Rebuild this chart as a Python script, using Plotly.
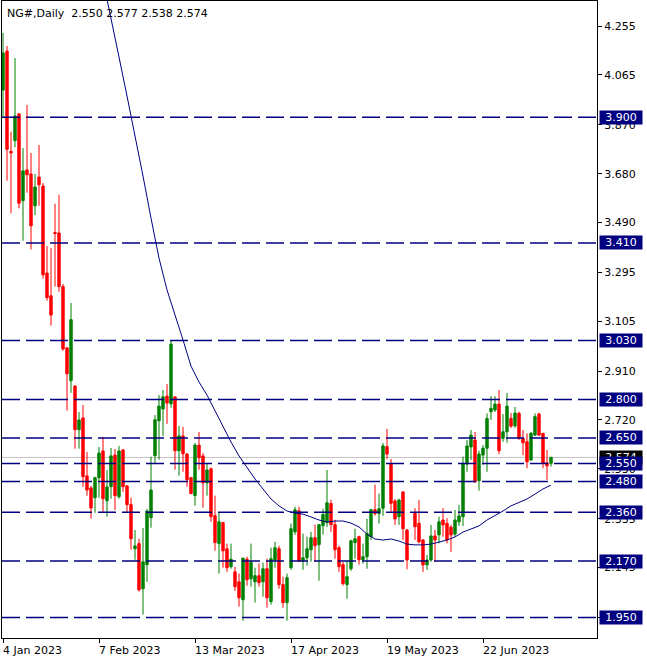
import plotly.graph_objects as go

# ---------------- data ----------------
bar_index = list(range(138))

opens = [4.006, 4.158, 3.767, 3.809, 3.913, 3.575, 3.695, 3.679, 3.555, 3.667,
         3.632, 3.293, 3.204, 3.451, 3.449, 3.240, 3.001, 2.873, 2.852, 2.682,
         2.728, 2.502, 2.455, 2.417, 2.495, 2.599, 2.405, 2.460, 2.583, 2.421,
         2.603, 2.463, 2.390, 2.218, 2.238, 2.062, 2.156, 2.339, 2.581, 2.717,
         2.763, 2.813, 2.783, 2.810, 2.600, 2.658, 2.587, 2.495, 2.425, 2.622,
         2.580, 2.475, 2.530, 2.347, 2.238, 2.320, 2.218, 2.148, 2.128, 2.089,
         2.019, 2.177, 2.101, 2.089, 2.113, 2.089, 2.140, 2.012, 2.175, 2.218,
         2.078, 2.008, 2.144, 2.284, 2.366, 2.171, 2.183, 2.214, 2.261, 2.234,
         2.308, 2.320, 2.394, 2.312, 2.222, 2.156, 2.078, 2.140, 2.242, 2.265,
         2.175, 2.187, 2.265, 2.370, 2.355, 2.376, 2.616, 2.547, 2.404, 2.343,
         2.439, 2.291, None, 2.356, 2.317, 2.252, 2.155, 2.174, 2.268, 2.272,
         2.330, 2.317, 2.302, 2.275, 2.323, 2.343, 2.548, 2.615, 2.642, 2.483,
         2.583, 2.610, 2.752, 2.759, 2.782, 2.648, 2.674, 2.726, 2.697, 2.746,
         2.648, 2.635, 2.564, 2.661, 2.743, 2.668, 2.553, 2.550]

highs = [4.229, 4.178, 3.844, 4.131, 3.917, 3.780, 3.948, 3.761, 3.679, 3.792,
         3.644, 3.398, 3.390, 3.563, 3.598, 3.250, 3.004, 3.176, 2.855, 2.751,
         2.778, 2.595, 2.463, 2.499, 2.615, 2.654, 2.525, 2.611, 2.607, 2.619,
         2.607, 2.466, 2.417, 2.291, 2.257, 2.299, 2.373, 2.577, 2.739, 2.817,
         2.837, 2.860, 3.028, 2.813, 2.697, 2.693, 2.591, 2.498, 2.630, 2.673,
         2.591, 2.552, 2.534, 2.425, 2.358, 2.323, 2.238, 2.238, 2.148, 2.121,
         2.183, 2.187, 2.238, 2.144, 2.161, 2.164, 2.179, 2.222, 2.245, 2.230,
         2.109, 2.121, 2.316, 2.382, 2.382, 2.277, 2.265, 2.284, 2.312, 2.315,
         2.374, 2.525, 2.409, 2.331, 2.230, 2.167, 2.171, 2.253, 2.296, 2.269,
         2.238, 2.335, 2.374, 2.468, 2.433, 2.630, 2.685, 2.568, 2.412, 2.413,
         2.443, 2.295, None, 2.376, 2.408, 2.256, 2.194, 2.311, 2.291, 2.343,
         2.376, 2.337, 2.311, 2.369, 2.389, 2.577, 2.642, 2.681, 2.673, 2.600,
         2.622, 2.746, 2.813, 2.813, 2.837, 2.743, 2.825, 2.747, 2.771, 2.752,
         2.681, 2.668, 2.673, 2.746, 2.748, 2.669, 2.603, 2.577]

lows = [3.901, 3.653, 3.526, 3.783, 3.545, 3.419, 3.606, 3.385, 3.519, 3.555,
        3.271, 3.185, 3.088, 3.240, 3.220, 2.990, 2.756, 2.826, 2.608, 2.608,
        2.460, 2.425, 2.335, 2.358, 2.417, 2.362, 2.343, 2.413, 2.369, 2.413,
        2.440, 2.358, 2.214, 2.175, 2.051, 1.961, 2.089, 2.300, 2.550, 2.565,
        2.658, 2.705, 2.768, 2.526, 2.503, 2.518, 2.460, 2.431, 2.386, 2.526,
        2.378, 2.425, 2.323, 2.210, 2.121, 2.144, 2.128, 2.140, 2.054, 1.992,
        1.937, 2.074, 2.070, 2.008, 2.070, 2.031, 1.988, 2.000, 2.144, 2.062,
        1.988, 1.937, 2.136, 2.272, 2.166, 2.136, 2.152, 2.167, 2.167, 2.093,
        2.273, 2.303, 2.284, 2.179, 2.128, 2.074, 2.023, 2.132, 2.179, 2.156,
        2.160, 2.140, 2.252, 2.347, 2.316, 2.346, 2.567, 2.362, 2.311, 2.311,
        2.252, 2.138, None, 2.252, 2.239, 2.128, 2.135, 2.167, 2.167, 2.239,
        2.265, 2.239, 2.206, 2.265, 2.307, 2.307, 2.518, 2.564, 2.474, 2.444,
        2.544, 2.518, 2.720, 2.751, 2.587, 2.635, 2.631, 2.689, 2.689, 2.642,
        2.583, 2.532, 2.560, 2.658, 2.658, 2.532, 2.486, 2.538]

closes = [4.151, 3.775, 3.761, 3.905, 3.565, 3.691, 3.676, 3.477, 3.628, 3.637,
          3.286, 3.197, 3.129, 3.447, 3.240, 2.997, 2.900, 3.111, 2.682, 2.720,
          2.499, 2.447, 2.377, 2.495, 2.591, 2.413, 2.459, 2.580, 2.425, 2.599,
          2.460, 2.390, 2.257, 2.229, 2.058, 2.167, 2.365, 2.447, 2.721, 2.774,
          2.810, 2.786, 3.016, 2.600, 2.658, 2.588, 2.487, 2.433, 2.622, 2.573,
          2.475, 2.525, 2.343, 2.242, 2.323, 2.210, 2.144, 2.177, 2.070, 2.027,
          2.181, 2.097, 2.164, 2.113, 2.086, 2.140, 2.027, 2.179, 2.222, 2.078,
          2.008, 2.105, 2.296, 2.370, 2.171, 2.183, 2.218, 2.261, 2.230, 2.312,
          2.351, 2.397, 2.312, 2.214, 2.148, 2.082, 2.109, 2.249, 2.257, 2.175,
          2.187, 2.277, 2.370, 2.355, 2.374, 2.619, 2.587, 2.395, 2.334, 2.408,
          2.296, 2.174, None, 2.304, 2.245, 2.155, 2.174, 2.268, 2.252, 2.323,
          2.311, 2.252, 2.272, 2.330, 2.346, 2.551, 2.619, 2.661, 2.479, 2.587,
          2.610, 2.726, 2.765, 2.782, 2.600, 2.674, 2.774, 2.696, 2.747, 2.648,
          2.631, 2.557, 2.668, 2.733, 2.661, 2.551, 2.541, 2.574]

# moving average (read at every second bar)
ma_index = [25, 27, 29, 31, 33, 35, 37, 39, 41, 43, 45, 47, 49, 51, 53, 55, 57,
            59, 61, 63, 65, 67, 69, 71, 73, 75, 77, 79, 81, 83, 85, 87, 89, 91,
            93, 95, 97, 99, 101, 103, 105, 107, 109, 111, 113, 115, 117, 119,
            121, 123, 125, 127, 129, 131, 133, 135, 137]
ma_values = [4.435, 4.279, 4.135, 3.983, 3.831, 3.671, 3.507, 3.351, 3.227,
             3.133, 3.032, 2.930, 2.868, 2.817, 2.755, 2.697, 2.634, 2.580,
             2.533, 2.490, 2.451, 2.412, 2.385, 2.365, 2.357, 2.353, 2.342,
             2.330, 2.322, 2.326, 2.326, 2.318, 2.303, 2.275, 2.256, 2.252,
             2.256, 2.248, 2.236, 2.233, 2.233, 2.236, 2.244, 2.252, 2.264,
             2.283, 2.295, 2.307, 2.330, 2.346, 2.365, 2.385, 2.400, 2.412,
             2.431, 2.451, 2.466]

levels = [3.900, 3.410, 3.030, 2.800, 2.650, 2.550, 2.480, 2.360, 2.170, 1.950]
last_price = 2.574
title_text = "NG#,Daily\u00a0\u00a02.550 2.577 2.538 2.574"

y_ticks = [4.255, 4.065, 3.870, 3.680, 3.490, 3.295, 3.105, 2.910, 2.720,
           2.530, 2.335, 2.145, 1.950]
x_tick_index = [0, 24, 48, 72, 96, 120]
x_tick_labels = ["4 Jan 2023", "7 Feb 2023", "13 Mar 2023", "17 Apr 2023",
                 "19 May 2023", "22 Jun 2023"]

# ---------------- styling ----------------
FONT = "DejaVu Sans"
NAVY = "#000080"
GREEN = "#008000"
RED = "#FF0000"

fig = go.Figure()

fig.add_trace(go.Candlestick(
    x=bar_index, open=opens, high=highs, low=lows, close=closes,
    increasing=dict(line=dict(color=GREEN, width=1), fillcolor=GREEN),
    decreasing=dict(line=dict(color=RED, width=1), fillcolor=RED),
    whiskerwidth=0, showlegend=False, hoverinfo="skip",
))

fig.add_trace(go.Scatter(
    x=ma_index, y=ma_values, mode="lines",
    line=dict(color=NAVY, width=1), showlegend=False, hoverinfo="skip",
))

shapes = []
shapes.append(dict(type="line", xref="paper", x0=0, x1=1, yref="y",
                   y0=last_price, y1=last_price, layer="below",
                   line=dict(color="#C0C0C0", width=1)))
for lv in levels:
    shapes.append(dict(type="line", xref="paper", x0=0, x1=1, yref="y",
                       y0=lv, y1=lv, layer="above",
                       line=dict(color=NAVY, width=1.5, dash="18px,6px")))

annotations = []
annotations.append(dict(text=title_text, xref="paper", yref="paper", x=0, y=1,
                        xanchor="left", yanchor="top", xshift=3, yshift=-4,
                        showarrow=False, font=dict(family=FONT, size=11, color="black")))
# current price label (drawn first so level labels cover it)
annotations.append(dict(text=f"{last_price:.3f}", xref="paper", yref="y", x=1, y=last_price,
                        xanchor="left", yanchor="middle", xshift=2, showarrow=False,
                        width=42, height=13, align="center", borderpad=0,
                        bgcolor="black", font=dict(family=FONT, size=11, color="white")))
for lv in levels:
    annotations.append(dict(text=f"{lv:.3f}", xref="paper", yref="y", x=1, y=lv,
                            xanchor="left", yanchor="middle", xshift=2, showarrow=False,
                            width=42, height=13, align="center", borderpad=0,
                            bgcolor=NAVY, font=dict(family=FONT, size=11, color="white")))
for xi, lab in zip(x_tick_index, x_tick_labels):
    annotations.append(dict(text=lab, xref="x", yref="paper", x=xi, y=0,
                            xanchor="left", yanchor="top", xshift=-2, yshift=-4,
                            showarrow=False, font=dict(family=FONT, size=11, color="black")))

fig.update_layout(
    width=647, height=661,
    margin=dict(l=2, r=50, t=1, b=23, pad=0),
    paper_bgcolor="white", plot_bgcolor="white",
    showlegend=False, boxgap=0.15, boxgroupgap=0.3,
    shapes=shapes, annotations=annotations,
    xaxis=dict(range=[-0.25, 148.5], showgrid=False, zeroline=False,
               showline=True, linecolor="black", linewidth=1, mirror=True,
               tickmode="array", tickvals=x_tick_index, ticks="outside",
               ticklen=4, tickcolor="black", showticklabels=False,
               rangeslider=dict(visible=False), fixedrange=True),
    yaxis=dict(range=[1.870, 4.3534], side="right", showgrid=False, zeroline=False,
               showline=True, linecolor="black", linewidth=1, mirror=True,
               tickmode="array", tickvals=y_ticks,
               ticktext=[f"{v:.3f}" for v in y_ticks],
               ticks="outside", ticklen=4, tickcolor="black",
               tickfont=dict(family=FONT, size=11, color="black"), fixedrange=True),
)

fig.write_html("out.html", config={"displayModeBar": False},
               post_script="document.body.style.margin='0';document.body.style.padding='0';")
